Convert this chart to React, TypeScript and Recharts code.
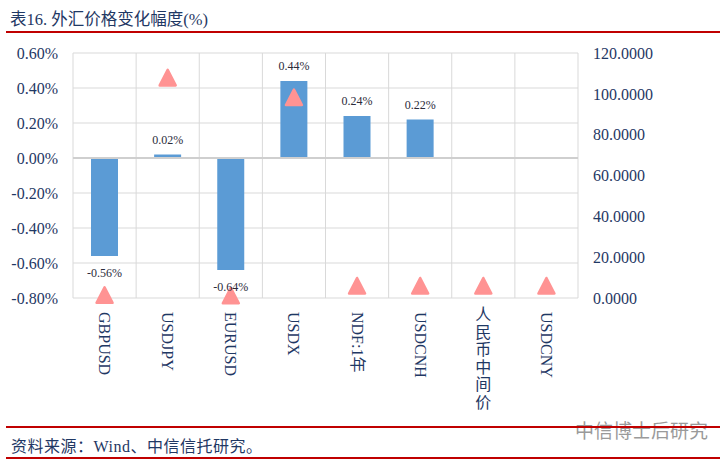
import { Bar, CartesianGrid, ComposedChart, LabelList, Line, ReferenceLine, XAxis, YAxis } from 'recharts';

const categories = ['GBPUSD', 'USDJPY', 'EURUSD', 'USDX', 'NDF:1年', 'USDCNH', '人民币中间价', 'USDCNY'];
// 涨跌幅 (%)
const changePct = [-0.56, 0.02, -0.64, 0.44, 0.24, 0.22, 0.0, 0.0];
// 价格水平 (右轴)
const priceLevel = [1.3, 107.8, 1.1, 98.2, 5.9, 5.9, 5.9, 5.9];
const leftTicks = [-0.8, -0.6, -0.4, -0.2, 0, 0.2, 0.4, 0.6];
const rightTicks = [0, 20, 40, 60, 80, 100, 120];

const NAVY = '#1f3864';
const RED = '#c00000';
const FONT = 'Liberation Serif, Noto Sans CJK SC, serif';

const data = categories.map((name, i) => ({
  name,
  change: changePct[i],
  price: priceLevel[i]
}));

const XTick = (props: any) => {
  const { x, y, payload } = props;
  const label: string = payload.value;
  if (/^[\u4e00-\u9fa5]+$/.test(label)) {
    // 纯中文竖排
    return (
      <g>
        {label.split('').map((ch, i) => (
          <text key={i} x={x} y={y + 14 + i * 17.5} textAnchor="middle" fontSize={16} fill={NAVY} style={{ fontFamily: FONT }}>
            {ch}
          </text>
        ))}
      </g>
    );
  }
  return (
    <text
      transform={`translate(${x},${y + 6}) rotate(90)`}
      textAnchor="start"
      dominantBaseline="central"
      fontSize={16}
      fill={NAVY}
      style={{ fontFamily: FONT }}
    >
      {label}
    </text>
  );
};

const BarLabel = (props: any) => {
  const { x, y, width, height, value } = props;
  const top = Math.min(y, y + height);
  const bottom = Math.max(y, y + height);
  const ty = value < 0 ? bottom + 17 : top - 15;
  return (
    <text x={x + width / 2} y={ty} textAnchor="middle" dominantBaseline="central" fontSize={12} fill="#2b2b3b" style={{ fontFamily: FONT }}>
      {value.toFixed(2) + '%'}
    </text>
  );
};

const Triangle = (props: any) => {
  const { cx, cy, index } = props;
  if (cx == null || cy == null) return null;
  return (
    <path
      key={index}
      d={`M${cx},${cy - 8} L${cx + 8},${cy + 7.5} L${cx - 8},${cy + 7.5} Z`}
      fill="#ff9393"
      stroke="#ff9393"
      strokeWidth={2.5}
      strokeLinejoin="round"
    />
  );
};

const App = () => {
  return (
    <div style={{ position: 'absolute', left: 0, top: 0, width: 720, height: 462, background: '#fff', fontFamily: FONT }}>
      <div style={{ position: 'absolute', left: 10, top: 6, fontSize: 16.5, color: NAVY, whiteSpace: 'nowrap' }}>
        表16. 外汇价格变化幅度(%)
      </div>
      <div style={{ position: 'absolute', left: 6, top: 31, width: 714, height: 1.5, background: RED }} />

      <ComposedChart
        width={720}
        height={462}
        data={data}
        margin={{ top: 53, right: 62, bottom: 34, left: 8 }}
        style={{ position: 'absolute', left: 0, top: 0 }}
      >
        <CartesianGrid
          yAxisId="left"
          stroke="#d9d9d9"
          verticalCoordinatesGenerator={({ offset }: any) =>
            categories.map((_, i) => offset.left + (i * offset.width) / categories.length).concat(offset.left + offset.width)
          }
        />
        <XAxis dataKey="name" axisLine={false} tickLine={false} height={130} interval={0} tick={<XTick />} />
        <YAxis
          yAxisId="left"
          width={65}
          domain={[-0.8, 0.6]}
          ticks={leftTicks}
          tickFormatter={(v: number) => v.toFixed(2) + '%'}
          axisLine={false}
          tickLine={false}
          tickMargin={9}
          tick={{ fontSize: 16, fill: NAVY, style: { fontFamily: FONT } }}
        />
        <YAxis
          yAxisId="right"
          orientation="right"
          width={80}
          domain={[0, 120]}
          ticks={rightTicks}
          tickFormatter={(v: number) => v.toFixed(4)}
          axisLine={false}
          tickLine={false}
          tickMargin={9}
          tick={{ fontSize: 16, fill: NAVY, style: { fontFamily: FONT } }}
        />
        <ReferenceLine yAxisId="left" y={0} stroke="#cfcfcf" strokeWidth={2} />
        <Bar yAxisId="left" dataKey="change" fill="#5b9bd5" barSize={27} isAnimationActive={false}>
          <LabelList dataKey="change" content={<BarLabel />} />
        </Bar>
        <Line yAxisId="right" dataKey="price" stroke="none" dot={<Triangle />} activeDot={false} isAnimationActive={false} />
      </ComposedChart>

      <div style={{ position: 'absolute', left: 575, top: 416, fontSize: 19, color: '#9a9a9a', fontFamily: 'Noto Sans CJK SC, sans-serif', whiteSpace: 'nowrap' }}>
        中信博士后研究
      </div>
      <div style={{ position: 'absolute', left: 6, top: 426, width: 714, height: 1.5, background: RED }} />
      <div style={{ position: 'absolute', left: 11, top: 433, fontSize: 16, color: NAVY, letterSpacing: 0.5, whiteSpace: 'nowrap' }}>
        资料来源：Wind、中信信托研究。
      </div>
      <div style={{ position: 'absolute', left: 6, top: 457, width: 714, height: 1.5, background: RED }} />
    </div>
  );
};

export default App;
